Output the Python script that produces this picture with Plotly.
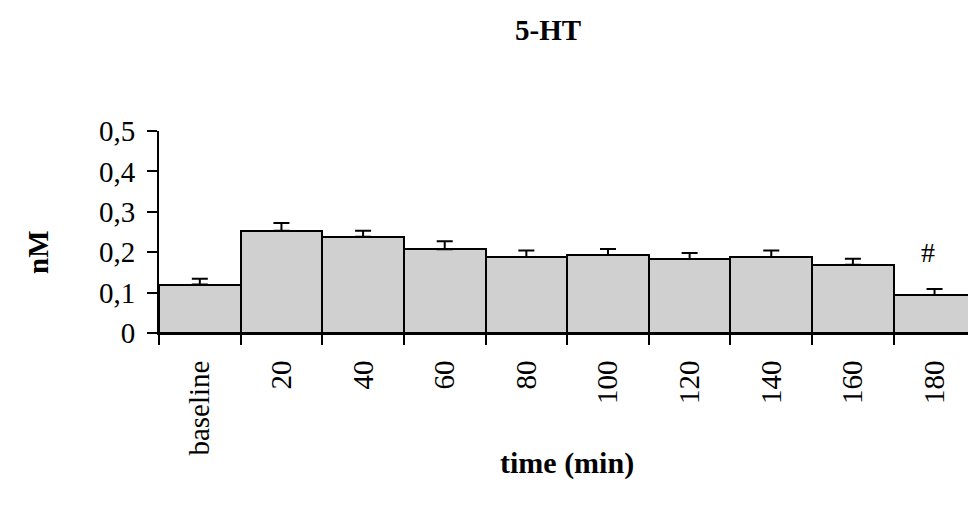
import plotly.graph_objects as go

categories = ["baseline", "20", "40", "60", "80", "100", "120", "140", "160", "180"]
values = [0.120, 0.253, 0.238, 0.207, 0.188, 0.193, 0.183, 0.188, 0.169, 0.094]
errors = [0.014, 0.019, 0.015, 0.020, 0.016, 0.015, 0.015, 0.016, 0.015, 0.015]
ytick_vals = [0, 0.1, 0.2, 0.3, 0.4, 0.5]
ytick_text = ["0", "0,1", "0,2", "0,3", "0,4", "0,5"]
marked_index = 9
marked_y = 0.2

FONT = "Liberation Serif, Times New Roman, serif"

fig = go.Figure()
fig.add_trace(go.Bar(
    x=list(range(len(categories))), y=values,
    marker=dict(color="#d0d0d0", line=dict(color="black", width=2)),
    width=1.0,
    error_y=dict(type="data", array=errors, arrayminus=[0] * len(errors),
                 symmetric=False, color="black", thickness=2, width=8),
))

fig.add_annotation(x=marked_index, y=marked_y, xref="x", yref="y", text="#", showarrow=False,
                   xanchor="center", yanchor="middle", xshift=-7,
                   font=dict(family=FONT, size=28, color="black"))
fig.add_annotation(x=0.481, y=1.5, xref="paper", yref="paper", text="<b>5-HT</b>",
                   xanchor="center", yanchor="middle",
                   showarrow=False, font=dict(family=FONT, size=29, color="black"))
fig.add_annotation(x=0.504, y=-0.644, xref="paper", yref="paper", text="<b>time (min)</b>",
                   xanchor="center", yanchor="middle",
                   showarrow=False, font=dict(family=FONT, size=30, color="black"))
fig.add_annotation(x=-0.1496, y=0.401, xref="paper", yref="paper", text="<b>nM</b>",
                   xanchor="center", yanchor="middle",
                   textangle=-90, showarrow=False, font=dict(family=FONT, size=29, color="black"))

fig.update_layout(
    width=968, height=510,
    margin=dict(l=159, r=0, t=131, b=177),
    plot_bgcolor="white", paper_bgcolor="white",
    showlegend=False, bargap=0,
    font=dict(family=FONT, size=29, color="black"),
    xaxis=dict(range=[-0.5, 9.41], tickmode="array",
               tickvals=list(range(len(categories))), ticktext=categories,
               ticks="", showline=True, linecolor="black", linewidth=2, tickangle=-90,
               showgrid=False, zeroline=False, ticklabelstandoff=14,
               minor=dict(tickmode="array",
                          tickvals=[i - 0.5 for i in range(len(categories) + 1)],
                          ticks="outside", ticklen=10, tickwidth=2, tickcolor="black",
                          showgrid=False),
               tickfont=dict(family=FONT, size=29, color="black")),
    yaxis=dict(range=[0, 0.5], tickvals=ytick_vals, ticktext=ytick_text,
               ticks="outside", ticklen=10, tickwidth=2, tickcolor="black",
               showline=True, linecolor="black", linewidth=2,
               showgrid=False, zeroline=False, ticklabelstandoff=6,
               tickfont=dict(family=FONT, size=29, color="black")),
)

fig.write_html("out.html")
